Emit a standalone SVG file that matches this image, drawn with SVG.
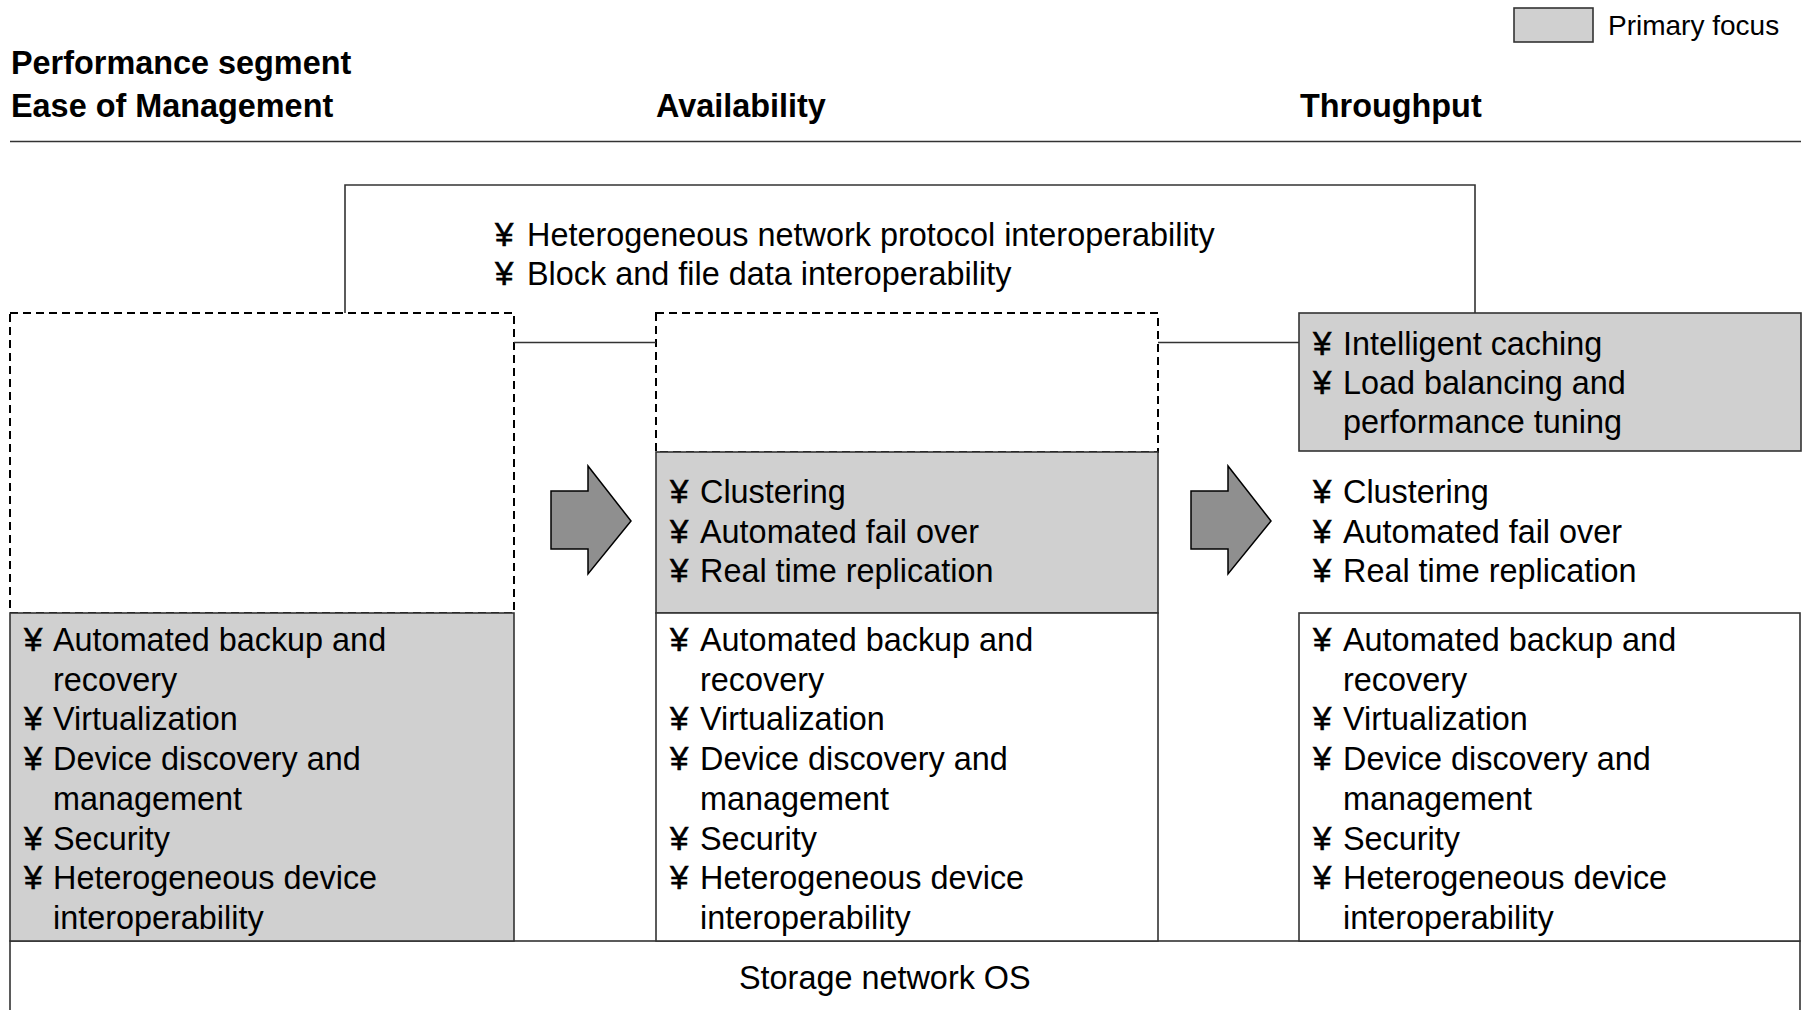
<svg xmlns="http://www.w3.org/2000/svg" width="1805" height="1010" viewBox="0 0 1805 1010">
<style>
text{font-family:"Liberation Sans",Arial,sans-serif;fill:#000;}
.h{font-size:32.4px;font-weight:bold;}
.t{font-size:32.4px;}
.b{font-family:"Liberation Sans",Arial,sans-serif;font-size:33px;stroke:#000;stroke-width:0.6;}
.lg{font-size:28px;}
.box{stroke:#333;stroke-width:1.6;}
.gray{fill:#d0d0d0;}
.white{fill:#fff;}
.dash{fill:none;stroke:#000;stroke-width:2;stroke-dasharray:8,5;}
.ln{fill:none;stroke:#333;stroke-width:1.6;}
.arrow{fill:#8f8f8f;stroke:#000;stroke-width:1.5;}
</style>
<rect width="1805" height="1010" fill="#fff"/>

<g id="legend">
<rect class="box gray" x="1514" y="8" width="79" height="34"/>
<text class="lg" x="1608" y="35">Primary focus</text>
</g>

<g id="headers">
<text class="h" x="11" y="74">Performance segment</text>
<text class="h" x="11" y="117">Ease of Management</text>
<text class="h" x="656" y="117">Availability</text>
<text class="h" x="1300" y="117">Throughput</text>
<line x1="10" y1="141.5" x2="1801" y2="141.5" stroke="#333" stroke-width="1.6"/>
</g>

<g id="interop-box">
<path class="ln" d="M345,313 V185 H1475 V313"/>
<text class="b" x="495" y="246">¥</text><text class="t" x="527" y="246">Heterogeneous network protocol interoperability</text>
<text class="b" x="495" y="285">¥</text><text class="t" x="527" y="285">Block and file data interoperability</text>
</g>

<g id="storage-os">
<rect class="box white" x="10" y="941" width="1790" height="75"/>
<text class="t" x="739" y="989">Storage network OS</text>
</g>

<g id="col1-dashed">
<rect class="dash" x="10" y="313" width="504" height="300"/>
</g>

<g id="col1-mgmt">
<rect class="box gray" x="10" y="613" width="504" height="328"/>
<text class="b" x="24" y="651">¥</text><text class="t" x="53" y="651">Automated backup and</text>
<text class="t" x="53" y="690.7">recovery</text>
<text class="b" x="24" y="730.4">¥</text><text class="t" x="53" y="730.4">Virtualization</text>
<text class="b" x="24" y="770.1">¥</text><text class="t" x="53" y="770.1">Device discovery and</text>
<text class="t" x="53" y="809.8">management</text>
<text class="b" x="24" y="849.5">¥</text><text class="t" x="53" y="849.5">Security</text>
<text class="b" x="24" y="889.2">¥</text><text class="t" x="53" y="889.2">Heterogeneous device</text>
<text class="t" x="53" y="928.9">interoperability</text>
</g>

<g id="col2-dashed">
<rect class="dash" x="656" y="313" width="502" height="139"/>
</g>

<g id="col2-avail">
<rect class="box gray" x="656" y="452" width="502" height="161"/>
<text class="b" x="670" y="503">¥</text><text class="t" x="700" y="503">Clustering</text>
<text class="b" x="670" y="542.5">¥</text><text class="t" x="700" y="542.5">Automated fail over</text>
<text class="b" x="670" y="582">¥</text><text class="t" x="700" y="582">Real time replication</text>
</g>

<g id="col2-mgmt">
<rect class="box white" x="656" y="613" width="502" height="328"/>
<text class="b" x="670" y="651">¥</text><text class="t" x="700" y="651">Automated backup and</text>
<text class="t" x="700" y="690.7">recovery</text>
<text class="b" x="670" y="730.4">¥</text><text class="t" x="700" y="730.4">Virtualization</text>
<text class="b" x="670" y="770.1">¥</text><text class="t" x="700" y="770.1">Device discovery and</text>
<text class="t" x="700" y="809.8">management</text>
<text class="b" x="670" y="849.5">¥</text><text class="t" x="700" y="849.5">Security</text>
<text class="b" x="670" y="889.2">¥</text><text class="t" x="700" y="889.2">Heterogeneous device</text>
<text class="t" x="700" y="928.9">interoperability</text>
</g>

<g id="col3-throughput">
<rect class="box gray" x="1299" y="313" width="502" height="138"/>
<text class="b" x="1313" y="355">¥</text><text class="t" x="1343" y="355">Intelligent caching</text>
<text class="b" x="1313" y="394">¥</text><text class="t" x="1343" y="394">Load balancing and</text>
<text class="t" x="1343" y="433">performance tuning</text>
</g>

<g id="col3-avail">
<text class="b" x="1313" y="503">¥</text><text class="t" x="1343" y="503">Clustering</text>
<text class="b" x="1313" y="542.5">¥</text><text class="t" x="1343" y="542.5">Automated fail over</text>
<text class="b" x="1313" y="582">¥</text><text class="t" x="1343" y="582">Real time replication</text>
</g>

<g id="col3-mgmt">
<rect class="box white" x="1299" y="613" width="501" height="328"/>
<text class="b" x="1313" y="651">¥</text><text class="t" x="1343" y="651">Automated backup and</text>
<text class="t" x="1343" y="690.7">recovery</text>
<text class="b" x="1313" y="730.4">¥</text><text class="t" x="1343" y="730.4">Virtualization</text>
<text class="b" x="1313" y="770.1">¥</text><text class="t" x="1343" y="770.1">Device discovery and</text>
<text class="t" x="1343" y="809.8">management</text>
<text class="b" x="1313" y="849.5">¥</text><text class="t" x="1343" y="849.5">Security</text>
<text class="b" x="1313" y="889.2">¥</text><text class="t" x="1343" y="889.2">Heterogeneous device</text>
<text class="t" x="1343" y="928.9">interoperability</text>
</g>

<g id="connectors">
<line class="ln" x1="514" y1="342.5" x2="656" y2="342.5"/>
<line class="ln" x1="1158" y1="342.5" x2="1299" y2="342.5"/>
<polygon class="arrow" points="551,491 588,491 588,466 631,521 588,574 588,549 551,549"/>
<polygon class="arrow" points="1191,491 1228,491 1228,466 1271,521 1228,574 1228,549 1191,549"/>
</g>
</svg>
